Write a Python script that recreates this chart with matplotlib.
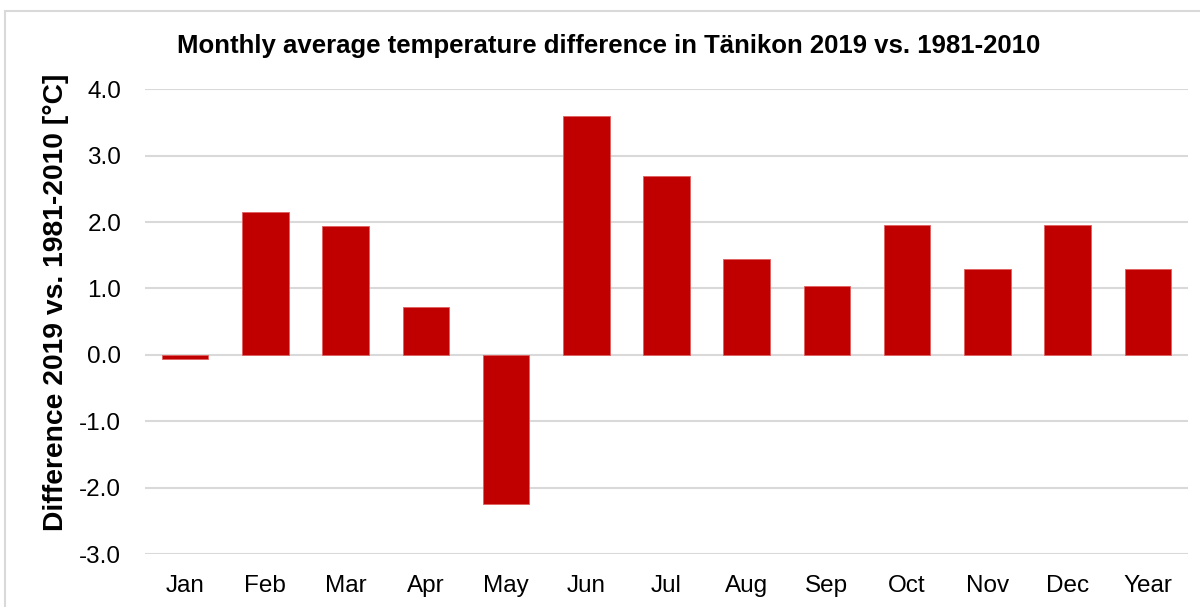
import matplotlib
matplotlib.use("Agg")
import matplotlib.pyplot as plt
from matplotlib.patches import Rectangle

plt.rcParams['font.family'] = ['Liberation Sans', 'DejaVu Sans']

categories = ["Jan", "Feb", "Mar", "Apr", "May", "Jun", "Jul",
              "Aug", "Sep", "Oct", "Nov", "Dec", "Year"]
differences = [-0.06, 2.15, 1.94, 0.72, -2.25, 3.60, 2.69,
               1.44, 1.04, 1.95, 1.29, 1.95, 1.29]
yticks = [-3.0, -2.0, -1.0, 0.0, 1.0, 2.0, 3.0, 4.0]

fig = plt.figure(figsize=(12.0, 6.07), dpi=100)
ax = fig.add_axes([0.1208, 0.0873, 0.8692, 0.7657])

# thin light frame around the chart area
fig.patches.append(Rectangle((5 / 1200, -0.05), 1.1, 1 - 11 / 607 + 0.05,
                             transform=fig.transFigure, fill=False,
                             edgecolor="#D9D9D9", linewidth=1.5))

x = list(range(len(categories)))
ax.bar(x, differences, width=0.58, color="#C00000",
       edgecolor="#E06060", linewidth=0.6, zorder=3)

ax.set_xlim(-0.5, len(categories) - 0.5)
ax.set_ylim(-3.0, 4.0)
ax.set_yticks(yticks)
ax.set_yticklabels([f"{v:.1f}" for v in yticks])
ax.set_xticks(x)
ax.set_xticklabels(categories)

ax.grid(axis="y", color="#D9D9D9", linewidth=1.5, zorder=0)
ax.set_axisbelow(True)
for s in ax.spines.values():
    s.set_visible(False)
ax.tick_params(axis="both", length=0, labelsize=17.5, colors="black")
ax.tick_params(axis="x", pad=15)
ax.tick_params(axis="y", pad=17)

ax.set_ylabel("Difference 2019 vs. 1981-2010 [°C]", fontsize=20.3,
              fontweight="bold")
ax.yaxis.set_label_coords((56 - 145) / 1043, (554 - 302.5) / 465)
ax.yaxis.label.set_va("center")

fig.text(0.5075, 1 - 46 / 607, "Monthly average temperature difference in Tänikon 2019 vs. 1981-2010",
         ha="center", va="center", fontsize=18.5, fontweight="bold")

fig.savefig("out.png", dpi=100, facecolor="white")
